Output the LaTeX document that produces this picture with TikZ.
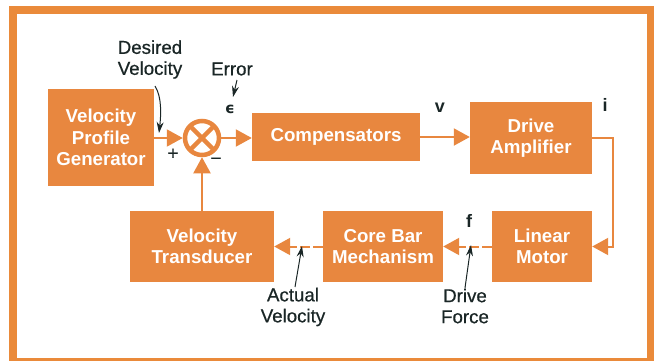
\documentclass[tikz,border=0pt]{standalone}
\usepackage{fontspec}
\setmainfont{Liberation Sans}
\newfontfamily\dejavu{DejaVu Sans}
\newfontfamily\labfont[FakeBold=0.6]{Liberation Sans}
\usetikzlibrary{arrows.meta}
\definecolor{hporange}{HTML}{E8873F}
\definecolor{frameorange}{HTML}{EA8A3A}
\definecolor{ink}{HTML}{1A2626}
\begin{document}
\begin{tikzpicture}[x=1pt,y=-1pt,
  box/.style={draw=none,fill=hporange,text=white,
    font=\fontsize{18.7}{21.5}\selectfont\bfseries,align=center,inner sep=0pt},
  lbl/.style={text=ink,font=\labfont\fontsize{18.7}{21}\selectfont,align=center,inner sep=0pt},
  sym/.style={text=ink,font=\fontsize{18}{20}\selectfont\bfseries,inner sep=0pt},
  conn/.style={draw=hporange,line width=2pt,-{Triangle[length=16pt,width=17pt]}},
  dconn/.style={conn,dash pattern=on 10pt off 3pt},
  ptr/.style={draw=ink,line width=1pt,-{Stealth[length=11pt,width=7pt]}}
]
\useasboundingbox (0,0) rectangle (654,360);
% frame
\draw[frameorange,line width=8pt] (13,9.5) rectangle (651,361.5);

% blocks
\node[box,minimum width=106pt,minimum height=97pt] (vpg) at (101,137.5) {Velocity\\Profile\\Generator};
\node[draw=hporange,line width=4.5pt,circle,minimum size=34pt,inner sep=0pt,outer sep=2.25pt] (sum) at (202,138) {};
\draw[hporange,line width=4.5pt] ([shift={(45:17)}]sum.center) -- ([shift={(225:17)}]sum.center)
  ([shift={(135:17)}]sum.center) -- ([shift={(315:17)}]sum.center);
\node[box,minimum width=168pt,minimum height=48pt] (comp) at (336,137) {Compensators};
\node[box,minimum width=122pt,minimum height=72pt] (da) at (531,138) {Drive\\Amplifier};
\node[box,minimum width=144pt,minimum height=71pt] (vt) at (202,246.5) {Velocity\\Transducer};
\node[box,minimum width=120pt,minimum height=71pt] (cb) at (383,246.5) {Core Bar\\Mechanism};
\node[box,minimum width=100pt,minimum height=71pt] (lm) at (542,246.5) {Linear\\Motor};

% connectors
\draw[conn] (vpg.east |- sum.west) -- (sum.west);
\draw[conn] (sum.east) -- (comp.west |- sum.east);
\draw[conn] (comp.east) -- (da.west |- comp.east);
\coordinate (turn) at (613,246.5);
\draw[conn] (da.east) -| (turn) -- (lm.east);
\draw[dconn] (lm.west) -- (cb.east);
\draw[dconn] (cb.west) -- (vt.east);
\draw[conn] (vt.north) -- (sum.south);

% labels
\node[lbl] (dvl) at (150,59.5) {Desired\\Velocity};
\node[lbl] (err) at (232,69) {Error};
\node[sym,font=\dejavu\fontsize{15}{18}\selectfont\bfseries] (eps) at (230,109) {ϵ};
\node[sym] (vl) at (440,108) {v};
\node[sym] (il) at (605,105) {i};
\node[sym] (fl) at (469,221) {f};
\node[lbl] (plus) at (173,154) {+};
\node[lbl] (minus) at (216,161) {−};
\node[lbl] (avl) at (293,307) {Actual\\Velocity};
\node[lbl] (dfl) at (465,306) {Drive\\Force};

% pointer arrows
\coordinate (dvS) at (155,86);
\coordinate (dvE) at (159,133);
\draw[ptr] (dvS) .. controls (162,97) and (161,115) .. (dvE);
\coordinate (erS) at (237,80);
\coordinate (erE) at (233,97);
\draw[ptr] (erS) -- (erE);
\coordinate (avS) at (295,287);
\coordinate (avE) at (302,246);
\draw[ptr] (avS) -- (avE);
\coordinate (dfS) at (465,288);
\coordinate (dfE) at (471,245);
\draw[ptr] (dfS) -- (dfE);
\end{tikzpicture}
\end{document}
